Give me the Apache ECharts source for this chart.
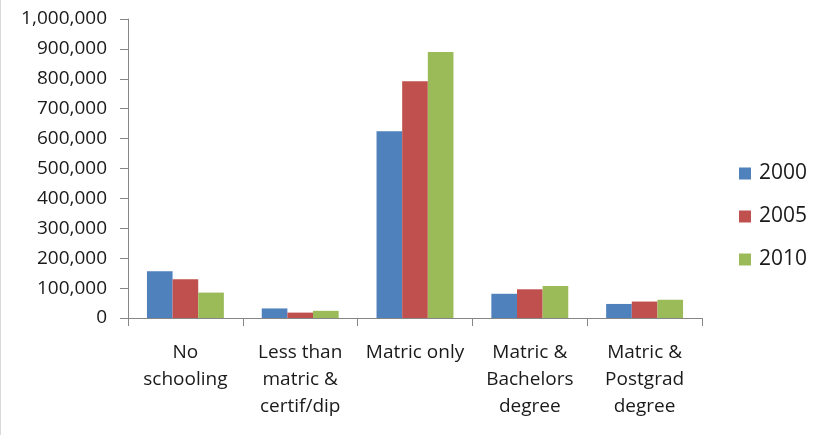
<!DOCTYPE html>
<html>
<head>
<meta charset="utf-8">
<script src="https://cdn.jsdelivr.net/npm/echarts@6/dist/echarts.min.js"></script>
<style>
  html, body { margin: 0; padding: 0; background: #fff; }
  #chart { width: 826px; height: 435px; }
</style>
</head>
<body>
<div id="chart"></div>
<script>
// Education level categories and their wrapped axis labels
const categories = ['No schooling', 'Less than matric & certif/dip', 'Matric only', 'Matric & Bachelors degree', 'Matric & Postgrad degree'];
const categoryLabels = ['No\nschooling', 'Less than\nmatric &\ncertif/dip', 'Matric only', 'Matric &\nBachelors\ndegree', 'Matric &\nPostgrad\ndegree'];

// Values per year
const years = ['2000', '2005', '2010'];
const values2000 = [156000, 32000, 625000, 81000, 47000];
const values2005 = [130000, 18000, 792000, 96000, 55000];
const values2010 = [85000, 24000, 890000, 107000, 61000];

// Y axis ticks
const yMin = 0;
const yMax = 1000000;
const yStep = 100000;

const colors = ['#4F81BD', '#C0504D', '#9BBB59'];
const font = 'Open Sans';

const chart = echarts.init(document.getElementById('chart'), null, { renderer: 'canvas' });

const seriesData = [values2000, values2005, values2010];

chart.setOption({
  animation: false,
  backgroundColor: '#ffffff',
  textStyle: { fontFamily: font },
  graphic: [{
    type: 'line',
    shape: { x1: 0.5, y1: 0, x2: 0.5, y2: 435 },
    style: { stroke: '#d9d9d9', lineWidth: 1 }
  }],
  grid: { left: 128, right: 124, top: 19, bottom: 117, containLabel: false },
  legend: {
    orient: 'vertical',
    left: 734,
    top: 158,
    padding: 5,
    itemWidth: 12,
    itemHeight: 12,
    itemGap: 22,
    icon: 'rect',
    textStyle: { fontFamily: font, fontSize: 21, color: '#1a1a1a', padding: [0, 0, 0, 3] },
    data: years
  },
  xAxis: {
    type: 'category',
    data: categories,
    axisLine: { lineStyle: { color: '#868686', width: 1 } },
    axisTick: { show: true, length: 8, lineStyle: { color: '#868686' } },
    axisLabel: {
      interval: 0,
      margin: 21,
      fontFamily: font,
      fontSize: 19,
      lineHeight: 27,
      color: '#1a1a1a',
      formatter: function (v, i) { return categoryLabels[i]; }
    }
  },
  yAxis: {
    type: 'value',
    min: yMin,
    max: yMax,
    interval: yStep,
    splitLine: { show: false },
    axisLine: { show: true, lineStyle: { color: '#868686', width: 1 } },
    axisTick: { show: true, length: 8, lineStyle: { color: '#868686' } },
    axisLabel: {
      margin: 21,
      fontFamily: font,
      fontSize: 19,
      color: '#1a1a1a',
      formatter: function (v) { return v.toLocaleString('en-US'); }
    }
  },
  series: years.map(function (y, i) {
    return {
      name: y,
      type: 'bar',
      data: seriesData[i],
      barGap: '0%',
      barCategoryGap: '33%',
      itemStyle: { color: colors[i] }
    };
  })
});
</script>
</body>
</html>
